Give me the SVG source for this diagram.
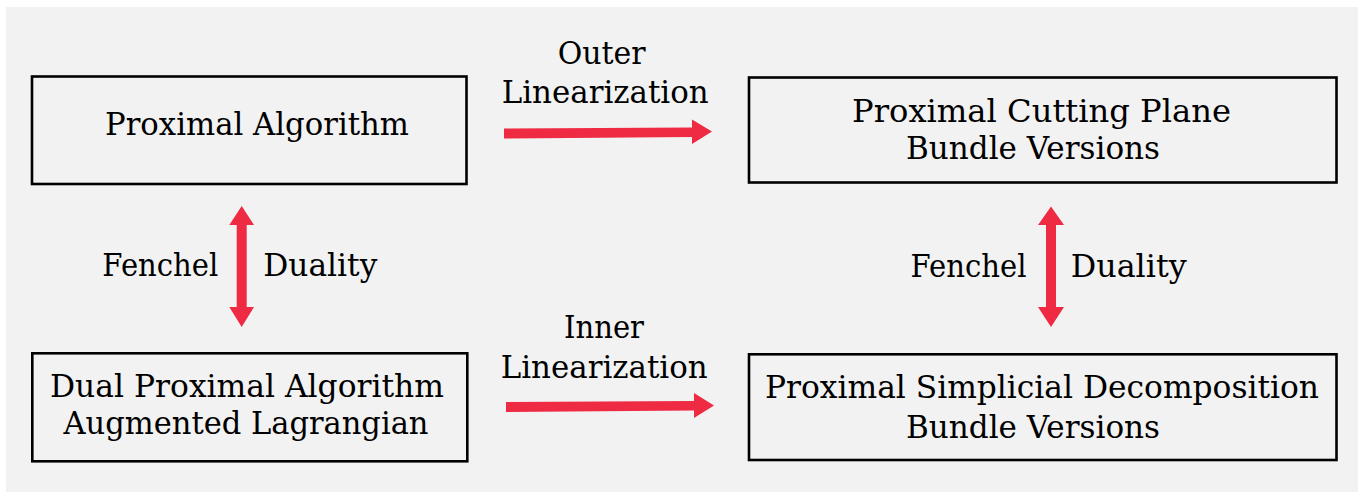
<svg xmlns="http://www.w3.org/2000/svg" width="1366" height="494" viewBox="0 0 1366 494">
  <style>
    .box { fill: none; stroke: #000; stroke-width: 2.6; }
    .lbl { font-family: 'DejaVu Serif', 'Liberation Serif', 'Times New Roman', Times, serif; font-size: 32px; fill: #000; }
    .arrow { fill: #ef2a43; stroke: none; }
  </style>
  <rect x="6" y="7" width="1352" height="485" fill="#f2f2f2"/>

  <g id="proximal-algorithm">
    <rect class="box" x="32" y="76.5" width="434.5" height="107.5"/>
    <text class="lbl" x="105" y="135" textLength="304" lengthAdjust="spacingAndGlyphs">Proximal Algorithm</text>
  </g>

  <g id="proximal-cutting-plane">
    <rect class="box" x="749" y="77.5" width="587.5" height="105"/>
    <text class="lbl" x="852" y="121.7" textLength="379" lengthAdjust="spacingAndGlyphs">Proximal Cutting Plane</text>
    <text class="lbl" x="906" y="159.3" textLength="254" lengthAdjust="spacingAndGlyphs">Bundle Versions</text>
  </g>

  <g id="dual-proximal-algorithm">
    <rect class="box" x="32.3" y="353.3" width="435" height="108"/>
    <text class="lbl" x="50" y="396.7" textLength="394" lengthAdjust="spacingAndGlyphs">Dual Proximal Algorithm</text>
    <text class="lbl" x="63.5" y="434.3" textLength="365" lengthAdjust="spacingAndGlyphs">Augmented Lagrangian</text>
  </g>

  <g id="proximal-simplicial-decomposition">
    <rect class="box" x="749" y="354.3" width="587.5" height="105.7"/>
    <text class="lbl" x="765" y="397.7" textLength="554" lengthAdjust="spacingAndGlyphs">Proximal Simplicial Decomposition</text>
    <text class="lbl" x="906" y="437.7" textLength="254" lengthAdjust="spacingAndGlyphs">Bundle Versions</text>
  </g>

  <g id="connectors">
    <!-- outer linearization: top row, left to right -->
    <path class="arrow" d="M504,128.5 L692,127.5 L692,119.5 L712,131.5 L692,144 L692,137 L504,138.5 Z"/>
    <text class="lbl" x="557.7" y="64.3" textLength="88" lengthAdjust="spacingAndGlyphs">Outer</text>
    <text class="lbl" x="501.7" y="103.3" textLength="207" lengthAdjust="spacingAndGlyphs">Linearization</text>

    <!-- inner linearization: bottom row, left to right -->
    <path class="arrow" d="M506,402 L694,401 L694,393 L714,405.5 L694,418 L694,410.5 L506,412 Z"/>
    <text class="lbl" x="564" y="337.7" textLength="80" lengthAdjust="spacingAndGlyphs">Inner</text>
    <text class="lbl" x="500.7" y="378.3" textLength="207" lengthAdjust="spacingAndGlyphs">Linearization</text>

    <!-- Fenchel duality, left column -->
    <path class="arrow" d="M241.7,206 L254,225 L246.7,225 L246.7,307 L254,307 L241.7,327 L229.3,307 L236.7,307 L236.7,225 L229.3,225 Z"/>
    <text class="lbl" x="102.3" y="275.7" textLength="116" lengthAdjust="spacingAndGlyphs">Fenchel</text>
    <text class="lbl" x="263.3" y="275.7" textLength="114" lengthAdjust="spacingAndGlyphs">Duality</text>

    <!-- Fenchel duality, right column -->
    <path class="arrow" d="M1051,206.5 L1064,225 L1056,225 L1056,307 L1064,307 L1051,327 L1038,307 L1046,307 L1046,225 L1038,225 Z"/>
    <text class="lbl" x="910.5" y="277.3" textLength="116" lengthAdjust="spacingAndGlyphs">Fenchel</text>
    <text class="lbl" x="1070.7" y="277.3" textLength="116" lengthAdjust="spacingAndGlyphs">Duality</text>
  </g>
</svg>
